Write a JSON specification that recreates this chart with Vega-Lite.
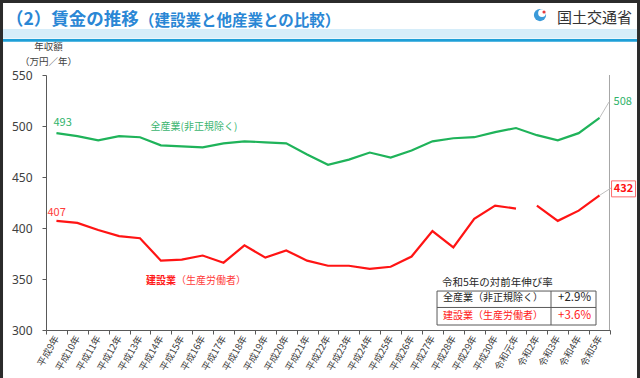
{
  "$schema": "https://vega.github.io/schema/vega-lite/v6.json",
  "width": 564,
  "height": 255,
  "autosize": {"type": "none"},
  "padding": {"left": 46, "top": 75, "right": 30, "bottom": 48},
  "background": "#2b2b2b",
  "config": {"view": {"stroke": null}, "font": "Noto Sans CJK JP", "text": {"font": "Noto Sans CJK JP"}},
  "datasets": {
    "wages": [
      {"year": "平成9年", "series": "全産業（非正規除く）", "value": 493, "seg": "a"},
      {"year": "平成10年", "series": "全産業（非正規除く）", "value": 490, "seg": "a"},
      {"year": "平成11年", "series": "全産業（非正規除く）", "value": 486, "seg": "a"},
      {"year": "平成12年", "series": "全産業（非正規除く）", "value": 490, "seg": "a"},
      {"year": "平成13年", "series": "全産業（非正規除く）", "value": 489, "seg": "a"},
      {"year": "平成14年", "series": "全産業（非正規除く）", "value": 481, "seg": "a"},
      {"year": "平成15年", "series": "全産業（非正規除く）", "value": 480, "seg": "a"},
      {"year": "平成16年", "series": "全産業（非正規除く）", "value": 479, "seg": "a"},
      {"year": "平成17年", "series": "全産業（非正規除く）", "value": 483, "seg": "a"},
      {"year": "平成18年", "series": "全産業（非正規除く）", "value": 485, "seg": "a"},
      {"year": "平成19年", "series": "全産業（非正規除く）", "value": 484, "seg": "a"},
      {"year": "平成20年", "series": "全産業（非正規除く）", "value": 483, "seg": "a"},
      {"year": "平成21年", "series": "全産業（非正規除く）", "value": 472, "seg": "a"},
      {"year": "平成22年", "series": "全産業（非正規除く）", "value": 462, "seg": "a"},
      {"year": "平成23年", "series": "全産業（非正規除く）", "value": 467, "seg": "a"},
      {"year": "平成24年", "series": "全産業（非正規除く）", "value": 474, "seg": "a"},
      {"year": "平成25年", "series": "全産業（非正規除く）", "value": 469, "seg": "a"},
      {"year": "平成26年", "series": "全産業（非正規除く）", "value": 476, "seg": "a"},
      {"year": "平成27年", "series": "全産業（非正規除く）", "value": 485, "seg": "a"},
      {"year": "平成28年", "series": "全産業（非正規除く）", "value": 488, "seg": "a"},
      {"year": "平成29年", "series": "全産業（非正規除く）", "value": 489, "seg": "a"},
      {"year": "平成30年", "series": "全産業（非正規除く）", "value": 494, "seg": "a"},
      {"year": "令和元年", "series": "全産業（非正規除く）", "value": 498, "seg": "a"},
      {"year": "令和2年", "series": "全産業（非正規除く）", "value": 491, "seg": "a"},
      {"year": "令和3年", "series": "全産業（非正規除く）", "value": 486, "seg": "a"},
      {"year": "令和4年", "series": "全産業（非正規除く）", "value": 493, "seg": "a"},
      {"year": "令和5年", "series": "全産業（非正規除く）", "value": 508, "seg": "a"},
      {"year": "平成9年", "series": "建設業（生産労働者）", "value": 407, "seg": "a"},
      {"year": "平成10年", "series": "建設業（生産労働者）", "value": 405, "seg": "a"},
      {"year": "平成11年", "series": "建設業（生産労働者）", "value": 398, "seg": "a"},
      {"year": "平成12年", "series": "建設業（生産労働者）", "value": 392, "seg": "a"},
      {"year": "平成13年", "series": "建設業（生産労働者）", "value": 390, "seg": "a"},
      {"year": "平成14年", "series": "建設業（生産労働者）", "value": 368, "seg": "a"},
      {"year": "平成15年", "series": "建設業（生産労働者）", "value": 369, "seg": "a"},
      {"year": "平成16年", "series": "建設業（生産労働者）", "value": 373, "seg": "a"},
      {"year": "平成17年", "series": "建設業（生産労働者）", "value": 366, "seg": "a"},
      {"year": "平成18年", "series": "建設業（生産労働者）", "value": 383, "seg": "a"},
      {"year": "平成19年", "series": "建設業（生産労働者）", "value": 371, "seg": "a"},
      {"year": "平成20年", "series": "建設業（生産労働者）", "value": 378, "seg": "a"},
      {"year": "平成21年", "series": "建設業（生産労働者）", "value": 368, "seg": "a"},
      {"year": "平成22年", "series": "建設業（生産労働者）", "value": 363, "seg": "a"},
      {"year": "平成23年", "series": "建設業（生産労働者）", "value": 363, "seg": "a"},
      {"year": "平成24年", "series": "建設業（生産労働者）", "value": 360, "seg": "a"},
      {"year": "平成25年", "series": "建設業（生産労働者）", "value": 362, "seg": "a"},
      {"year": "平成26年", "series": "建設業（生産労働者）", "value": 372, "seg": "a"},
      {"year": "平成27年", "series": "建設業（生産労働者）", "value": 397, "seg": "a"},
      {"year": "平成28年", "series": "建設業（生産労働者）", "value": 381, "seg": "a"},
      {"year": "平成29年", "series": "建設業（生産労働者）", "value": 409, "seg": "a"},
      {"year": "平成30年", "series": "建設業（生産労働者）", "value": 422, "seg": "a"},
      {"year": "令和元年", "series": "建設業（生産労働者）", "value": 419, "seg": "a"},
      {"year": "令和2年", "series": "建設業（生産労働者）", "value": 422, "seg": "b"},
      {"year": "令和3年", "series": "建設業（生産労働者）", "value": 407, "seg": "b"},
      {"year": "令和4年", "series": "建設業（生産労働者）", "value": 417, "seg": "b"},
      {"year": "令和5年", "series": "建設業（生産労働者）", "value": 432, "seg": "b"}
    ]
  },
  "data": {"values": [{}]},
  "resolve": {"scale": {"x": "independent"}, "axis": {"x": "independent", "y": "independent"}},
  "layer": [
    {
      "layer": [
        {
          "mark": {"type": "rect", "fill": "white"},
          "encoding": {
            "x": {"datum": -0.0762, "type": "quantitative", "scale": {"domain": [0, 1], "nice": false, "zero": false}, "axis": null},
            "x2": {"datum": 1.0479},
            "y": {"datum": 620.6, "type": "quantitative", "scale": {"domain": [300, 550], "nice": false, "zero": false}, "axis": null},
            "y2": {"datum": 252.9}
          }
        },
        {
          "mark": {"type": "rect", "fill": "#d6edf9"},
          "encoding": {
            "x": {"datum": -0.0762, "type": "quantitative", "scale": {"domain": [0, 1], "nice": false, "zero": false}, "axis": null},
            "x2": {"datum": 1.0479},
            "y": {"datum": 595.1, "type": "quantitative", "scale": {"domain": [300, 550], "nice": false, "zero": false}, "axis": null},
            "y2": {"datum": 585.8}
          }
        },
        {
          "mark": {"type": "rect", "fill": "#1e9fd7"},
          "encoding": {
            "x": {"datum": -0.0762, "type": "quantitative", "scale": {"domain": [0, 1], "nice": false, "zero": false}, "axis": null},
            "x2": {"datum": 1.0479},
            "y": {"datum": 585.3, "type": "quantitative", "scale": {"domain": [300, 550], "nice": false, "zero": false}, "axis": null},
            "y2": {"datum": 582.6}
          }
        }
      ]
    },
    {
      "data": {"name": "wages"},
      "layer": [
        {
          "mark": {"type": "line", "strokeWidth": 2.2},
          "encoding": {
            "x": {
              "field": "year", "type": "ordinal", "sort": null, "bandPosition": 0.5,
              "scale": {"type": "band", "paddingInner": 0, "paddingOuter": 0,
                "domain": ["平成9年", "平成10年", "平成11年", "平成12年", "平成13年", "平成14年", "平成15年", "平成16年", "平成17年", "平成18年", "平成19年", "平成20年", "平成21年", "平成22年", "平成23年", "平成24年", "平成25年", "平成26年", "平成27年", "平成28年", "平成29年", "平成30年", "令和元年", "令和2年", "令和3年", "令和4年", "令和5年"]},
              "axis": {"zindex": 2, "title": null, "tickBand": "extent", "labelAngle": -60, "labelAlign": "right", "labelBaseline": "middle", "labelFontSize": 9.5, "labelFont": "Noto Sans CJK JP", "labelColor": "#404040", "labelPadding": 2, "tickSize": 4, "domainColor": "#595959", "tickColor": "#595959", "labelOverlap": false, "labelBound": false, "grid": false}
            },
            "y": {
              "field": "value", "type": "quantitative",
              "scale": {"domain": [300, 550], "nice": false, "zero": false},
              "axis": {"zindex": 2, "values": [300, 350, 400, 450, 500, 550], "title": ["年収額", "（万円／年）"], "titleAngle": 0, "titleAlign": "center", "titleBaseline": "top", "titleX": 2, "titleY": -34, "titleFontSize": 9.5, "titleFontWeight": "normal", "titleColor": "#404040", "titleFont": "Noto Sans CJK JP", "titleLineHeight": 15, "labelFont": "Noto Sans", "labelFontSize": 12, "labelColor": "#404040", "labelPadding": 10, "tickSize": 4, "tickColor": "#595959", "domainColor": "#595959", "grid": false}
            },
            "color": {"field": "series", "type": "nominal", "scale": {"domain": ["全産業（非正規除く）", "建設業（生産労働者）"], "range": ["#1fb35a", "#ff1414"]}, "legend": null},
            "detail": {"field": "seg"}
          }
        },
        {
          "transform": [{"filter": "datum.year === '平成9年' && datum.series === '全産業（非正規除く）'"}],
          "mark": {"type": "text", "align": "left", "baseline": "middle", "dx": -3, "dy": -10, "fontSize": 11, "color": "#2fb36a"},
          "encoding": {
            "x": {"field": "year", "type": "ordinal", "sort": null, "bandPosition": 0.5},
            "y": {"field": "value", "type": "quantitative"},
            "text": {"field": "value"}
          }
        },
        {
          "transform": [{"filter": "datum.year === '平成9年' && datum.series === '建設業（生産労働者）'"}],
          "mark": {"type": "text", "align": "left", "baseline": "middle", "dx": -9, "dy": -8, "fontSize": 11, "color": "#ff3b3b"},
          "encoding": {
            "x": {"field": "year", "type": "ordinal", "sort": null, "bandPosition": 0.5},
            "y": {"field": "value", "type": "quantitative"},
            "text": {"field": "value"}
          }
        },
        {
          "transform": [{"filter": "datum.year === '令和5年' && datum.series === '全産業（非正規除く）'"}],
          "mark": {"type": "text", "align": "left", "baseline": "middle", "dx": 14, "dy": -16, "fontSize": 11, "color": "#2fb36a"},
          "encoding": {
            "x": {"field": "year", "type": "ordinal", "sort": null, "bandPosition": 0.5},
            "y": {"field": "value", "type": "quantitative"},
            "text": {"field": "value"}
          }
        },
        {
          "transform": [{"filter": "datum.year === '令和5年' && datum.series === '建設業（生産労働者）'"}],
          "mark": {"type": "point", "shape": "M-1.5,-1H1.5V1H-1.5Z", "size": 256, "filled": true, "fill": "white", "fillOpacity": 1, "stroke": "#ff6b6b", "strokeWidth": 1, "opacity": 1, "xOffset": 24, "yOffset": -6.5},
          "encoding": {
            "x": {"field": "year", "type": "ordinal", "sort": null, "bandPosition": 0.5},
            "y": {"field": "value", "type": "quantitative"}
          }
        },
        {
          "transform": [{"filter": "datum.year === '令和5年' && datum.series === '建設業（生産労働者）'"}],
          "mark": {"type": "text", "align": "center", "baseline": "middle", "dx": 24, "dy": -6.5, "fontSize": 11, "fontWeight": "bold", "color": "#ff1414"},
          "encoding": {
            "x": {"field": "year", "type": "ordinal", "sort": null, "bandPosition": 0.5},
            "y": {"field": "value", "type": "quantitative"},
            "text": {"field": "value"}
          }
        }
      ]
    },
    {
      "layer": [
        {
          "mark": {"type": "rule", "color": "#a6a6a6", "strokeWidth": 1},
          "encoding": {
            "x": {"datum": 0.9991, "type": "quantitative", "scale": {"domain": [0, 1], "nice": false, "zero": false}, "axis": null},
            "y": {"datum": 300, "type": "quantitative", "scale": {"domain": [300, 550], "nice": false, "zero": false}, "axis": null},
            "y2": {"datum": 550}
          }
        },
        {
          "mark": {"type": "rule", "color": "#bfbfbf", "strokeWidth": 1},
          "encoding": {
            "x": {"datum": 0.9815, "type": "quantitative", "scale": {"domain": [0, 1], "nice": false, "zero": false}, "axis": null},
            "x2": {"datum": 0.9982},
            "y": {"datum": 508, "type": "quantitative", "scale": {"domain": [300, 550], "nice": false, "zero": false}, "axis": null},
            "y2": {"datum": 523.5}
          }
        },
        {
          "mark": {"type": "rule", "color": "#bfbfbf", "strokeWidth": 1},
          "encoding": {
            "x": {"datum": 0.9815, "type": "quantitative", "scale": {"domain": [0, 1], "nice": false, "zero": false}, "axis": null},
            "x2": {"datum": 1.0018},
            "y": {"datum": 432, "type": "quantitative", "scale": {"domain": [300, 550], "nice": false, "zero": false}, "axis": null},
            "y2": {"datum": 439.2}
          }
        },
        {
          "mark": {"type": "rect", "fill": "white", "stroke": "#595959", "strokeWidth": 1},
          "encoding": {
            "x": {"datum": 0.6933, "type": "quantitative", "scale": {"domain": [0, 1], "nice": false, "zero": false}, "axis": null},
            "x2": {"datum": 0.9752},
            "y": {"datum": 338.2, "type": "quantitative", "scale": {"domain": [300, 550], "nice": false, "zero": false}, "axis": null},
            "y2": {"datum": 304.9}
          }
        },
        {
          "mark": {"type": "rule", "color": "#595959", "strokeWidth": 1},
          "encoding": {
            "x": {"datum": 0.6933, "type": "quantitative", "scale": {"domain": [0, 1], "nice": false, "zero": false}, "axis": null},
            "x2": {"datum": 0.9752},
            "y": {"datum": 322.1, "type": "quantitative", "scale": {"domain": [300, 550], "nice": false, "zero": false}, "axis": null}
          }
        },
        {
          "mark": {"type": "rule", "color": "#595959", "strokeWidth": 1},
          "encoding": {
            "x": {"datum": 0.8954, "type": "quantitative", "scale": {"domain": [0, 1], "nice": false, "zero": false}, "axis": null},
            "y": {"datum": 338.2, "type": "quantitative", "scale": {"domain": [300, 550], "nice": false, "zero": false}, "axis": null},
            "y2": {"datum": 304.9}
          }
        },
        {
          "mark": {"type": "text", "text": "令和5年の対前年伸び率", "align": "left", "baseline": "middle", "fontSize": 10.5, "color": "#262626"},
          "encoding": {
            "x": {"datum": 0.7021, "type": "quantitative", "scale": {"domain": [0, 1], "nice": false, "zero": false}, "axis": null},
            "y": {"datum": 346.1, "type": "quantitative", "scale": {"domain": [300, 550], "nice": false, "zero": false}, "axis": null}
          }
        },
        {
          "mark": {"type": "text", "text": "全産業（非正規除く）", "align": "left", "baseline": "middle", "fontSize": 10, "color": "#262626"},
          "encoding": {
            "x": {"datum": 0.7039, "type": "quantitative", "scale": {"domain": [0, 1], "nice": false, "zero": false}, "axis": null},
            "y": {"datum": 330.9, "type": "quantitative", "scale": {"domain": [300, 550], "nice": false, "zero": false}, "axis": null}
          }
        },
        {
          "mark": {"type": "text", "text": "+2.9%", "align": "right", "baseline": "middle", "fontSize": 11.5, "color": "#262626"},
          "encoding": {
            "x": {"datum": 0.9663, "type": "quantitative", "scale": {"domain": [0, 1], "nice": false, "zero": false}, "axis": null},
            "y": {"datum": 330.9, "type": "quantitative", "scale": {"domain": [300, 550], "nice": false, "zero": false}, "axis": null}
          }
        },
        {
          "mark": {"type": "text", "text": "建設業（生産労働者）", "align": "left", "baseline": "middle", "fontSize": 10, "color": "#ff1a1a"},
          "encoding": {
            "x": {"datum": 0.7039, "type": "quantitative", "scale": {"domain": [0, 1], "nice": false, "zero": false}, "axis": null},
            "y": {"datum": 313.7, "type": "quantitative", "scale": {"domain": [300, 550], "nice": false, "zero": false}, "axis": null}
          }
        },
        {
          "mark": {"type": "text", "text": "+3.6%", "align": "right", "baseline": "middle", "fontSize": 11.5, "color": "#ff1a1a"},
          "encoding": {
            "x": {"datum": 0.9663, "type": "quantitative", "scale": {"domain": [0, 1], "nice": false, "zero": false}, "axis": null},
            "y": {"datum": 313.7, "type": "quantitative", "scale": {"domain": [300, 550], "nice": false, "zero": false}, "axis": null}
          }
        },
        {
          "mark": {"type": "text", "text": "全産業(非正規除く)", "align": "center", "baseline": "middle", "fontSize": 10, "color": "#3bb56f"},
          "encoding": {
            "x": {"datum": 0.2624, "type": "quantitative", "scale": {"domain": [0, 1], "nice": false, "zero": false}, "axis": null},
            "y": {"datum": 499, "type": "quantitative", "scale": {"domain": [300, 550], "nice": false, "zero": false}, "axis": null}
          }
        },
        {
          "mark": {"type": "text", "text": "建設業", "align": "right", "baseline": "middle", "fontSize": 10, "fontWeight": "bold", "color": "#ff1a1a"},
          "encoding": {
            "x": {"datum": 0.2305, "type": "quantitative", "scale": {"domain": [0, 1], "nice": false, "zero": false}, "axis": null},
            "y": {"datum": 348, "type": "quantitative", "scale": {"domain": [300, 550], "nice": false, "zero": false}, "axis": null}
          }
        },
        {
          "mark": {"type": "text", "text": "（生産労働者）", "align": "left", "baseline": "middle", "fontSize": 10, "color": "#ff3b3b"},
          "encoding": {
            "x": {"datum": 0.2305, "type": "quantitative", "scale": {"domain": [0, 1], "nice": false, "zero": false}, "axis": null},
            "y": {"datum": 348, "type": "quantitative", "scale": {"domain": [300, 550], "nice": false, "zero": false}, "axis": null}
          }
        },
        {
          "mark": {"type": "text", "text": "（2）賃金の推移", "align": "left", "baseline": "middle", "fontSize": 17.5, "fontWeight": "bold", "color": "#2a87d5"},
          "encoding": {
            "x": {"datum": -0.0709, "type": "quantitative", "scale": {"domain": [0, 1], "nice": false, "zero": false}, "axis": null},
            "y": {"datum": 603.9, "type": "quantitative", "scale": {"domain": [300, 550], "nice": false, "zero": false}, "axis": null}
          }
        },
        {
          "mark": {"type": "text", "text": "（建設業と他産業との比較）", "align": "left", "baseline": "middle", "fontSize": 15.5, "fontWeight": "bold", "color": "#2a87d5"},
          "encoding": {
            "x": {"datum": 0.1649, "type": "quantitative", "scale": {"domain": [0, 1], "nice": false, "zero": false}, "axis": null},
            "y": {"datum": 602.9, "type": "quantitative", "scale": {"domain": [300, 550], "nice": false, "zero": false}, "axis": null}
          }
        },
        {
          "mark": {"type": "point", "shape": "circle", "size": 150, "filled": true, "color": "#3a9ad9", "opacity": 1},
          "encoding": {
            "x": {"datum": 0.8759, "type": "quantitative", "scale": {"domain": [0, 1], "nice": false, "zero": false}, "axis": null},
            "y": {"datum": 608.8, "type": "quantitative", "scale": {"domain": [300, 550], "nice": false, "zero": false}, "axis": null}
          }
        },
        {
          "mark": {"type": "point", "shape": "circle", "size": 60, "filled": true, "color": "white", "opacity": 1, "xOffset": 2, "yOffset": -2},
          "encoding": {
            "x": {"datum": 0.8759, "type": "quantitative", "scale": {"domain": [0, 1], "nice": false, "zero": false}, "axis": null},
            "y": {"datum": 608.8, "type": "quantitative", "scale": {"domain": [300, 550], "nice": false, "zero": false}, "axis": null}
          }
        },
        {
          "mark": {"type": "point", "shape": "circle", "size": 10, "filled": true, "color": "#e83a3a", "opacity": 1, "xOffset": 4, "yOffset": -3},
          "encoding": {
            "x": {"datum": 0.8759, "type": "quantitative", "scale": {"domain": [0, 1], "nice": false, "zero": false}, "axis": null},
            "y": {"datum": 608.8, "type": "quantitative", "scale": {"domain": [300, 550], "nice": false, "zero": false}, "axis": null}
          }
        },
        {
          "mark": {"type": "text", "text": "国土交通省", "align": "left", "baseline": "middle", "fontSize": 15, "color": "#333333"},
          "encoding": {
            "x": {"datum": 0.906, "type": "quantitative", "scale": {"domain": [0, 1], "nice": false, "zero": false}, "axis": null},
            "y": {"datum": 605.9, "type": "quantitative", "scale": {"domain": [300, 550], "nice": false, "zero": false}, "axis": null}
          }
        }
      ]
    }
  ]
}
